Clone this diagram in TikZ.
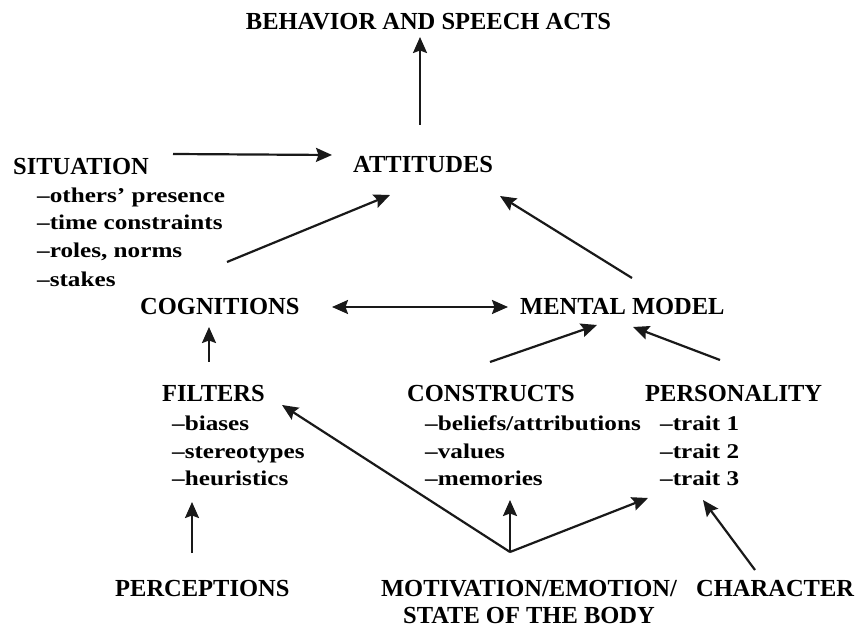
\documentclass[tikz,border=0pt]{standalone}
\usepackage{fontspec}
\setmainfont{Liberation Serif}
\newfontfamily\itemfont{Liberation Serif}[FakeStretch=1.2]
\usetikzlibrary{arrows.meta}
\begin{document}
\begin{tikzpicture}[x=1pt,y=-1pt,
  head/.style={inner sep=0pt,anchor=base west,font=\fontsize{24.5}{28}\selectfont\bfseries},
  itm/.style={inner sep=0pt,anchor=base west,font=\itemfont\fontsize{21}{25}\selectfont\bfseries},
  arr/.style={line width=2.2pt,draw=black!90,-{Stealth[length=16pt,width=14pt,inset=2.5pt]}},
  darr/.style={line width=2.2pt,draw=black!90,{Stealth[length=16pt,width=14pt,inset=2.5pt]}-{Stealth[length=16pt,width=14pt,inset=2.5pt]}}]
\useasboundingbox[fill=white] (0,0) rectangle (860,628);

% nodes
\node[head,anchor=base] (beh) at (428.5,30) {BEHAVIOR AND SPEECH ACTS};
\node[head] (att) at (353,173) {ATTITUDES};
\node[head] (sit) at (13,175) {SITUATION};
\node[itm] (sit1) at (37,203) {–others’ presence};
\node[itm] (sit2) at (37,230) {–time constraints};
\node[itm] (sit3) at (37,258) {–roles, norms};
\node[itm] (sit4) at (37,287) {–stakes};
\node[head] (cog) at (140,315) {COGNITIONS};
\node[head] (mm) at (520,315) {MENTAL MODEL};
\node[head] (fil) at (162,402) {FILTERS};
\node[itm] (fil1) at (172,430) {–biases};
\node[itm] (fil2) at (172,458) {–stereotypes};
\node[itm] (fil3) at (172,485) {–heuristics};
\node[head] (con) at (407,402) {CONSTRUCTS};
\node[itm] (con1) at (425,430) {–beliefs/attributions};
\node[itm] (con2) at (425,458) {–values};
\node[itm] (con3) at (425,485) {–memories};
\node[head] (per) at (645,402) {PERSONALITY};
\node[itm] (per1) at (660,430) {–trait 1};
\node[itm] (per2) at (660,458) {–trait 2};
\node[itm] (per3) at (660,485) {–trait 3};
\node[head] (perc) at (115,596) {PERCEPTIONS};
\node[head,anchor=base] (mot) at (529,596) {MOTIVATION/EMOTION/};
\node[head,anchor=base] (mot2) at (529,623) {STATE OF THE BODY};
\node[head] (char) at (696,596) {CHARACTER};
\coordinate (br) at (510,552);

% connectors
\draw[arr] ([xshift=67pt,yshift=48pt]att.base west) -- ([xshift=-8.5pt,yshift=-7pt]beh.base);
\draw[arr] ([xshift=160pt,yshift=21pt]sit.base west) -- ([xshift=-21pt,yshift=18pt]att.base west);
\draw[arr] ([xshift=87pt,yshift=53pt]cog.base west) -- ([xshift=37pt,yshift=-22pt]att.base west);
\draw[arr] ([xshift=112pt,yshift=37pt]mm.base west) -- ([xshift=147pt,yshift=-23pt]att.base west);
\draw[darr] ([xshift=192pt,yshift=8pt]cog.base west) -- ([xshift=-12pt,yshift=8pt]mm.base west);
\draw[arr] ([xshift=47pt,yshift=40pt]fil.base west) -- ([xshift=69pt,yshift=-12pt]cog.base west);
\draw[arr] ([xshift=83pt,yshift=40pt]con.base west) -- ([xshift=77pt,yshift=-10pt]mm.base west);
\draw[arr] ([xshift=75pt,yshift=42pt]per.base west) -- ([xshift=113pt,yshift=-12pt]mm.base west);
\draw[arr] ([xshift=77pt,yshift=43pt]perc.base west) -- ([xshift=20pt,yshift=-17pt]fil3.base west);
\draw[arr] (br) -- ([xshift=120pt,yshift=-3pt]fil.base west);
\draw[arr] (br) -- ([xshift=85pt,yshift=-15pt]con3.base west);
\draw[arr] (br) -- ([xshift=-12pt,yshift=-13pt]per3.base west);
\draw[arr] ([xshift=59pt,yshift=26pt]char.base west) -- ([xshift=43pt,yshift=-15pt]per3.base west);
\end{tikzpicture}
\end{document}
